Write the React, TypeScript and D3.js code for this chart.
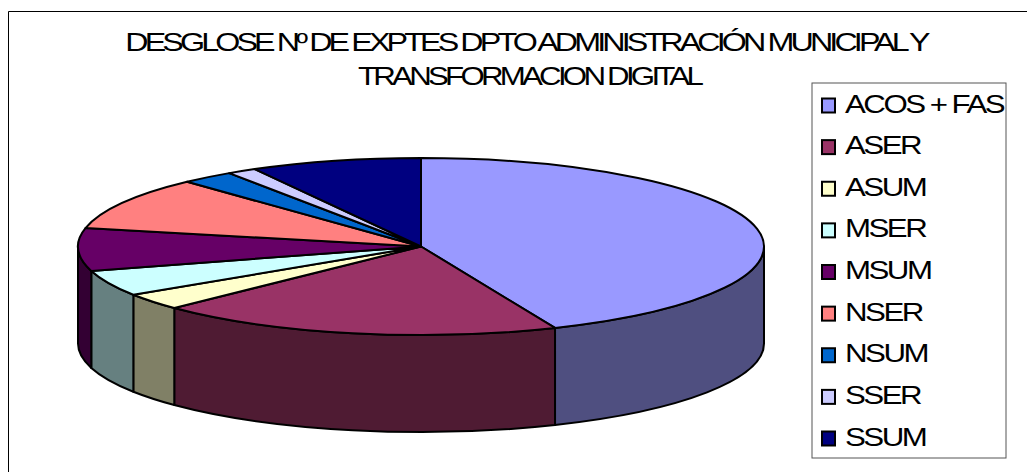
import React from "react";
import * as d3 from "d3";

const categories = ["ACOS + FAS", "ASER", "ASUM", "MSER", "MSUM", "NSER", "NSUM", "SSER", "SSUM"];
const values = [157, 69, 11, 17, 28, 35, 9, 5, 29];
const colors = ["#9999FF", "#993366", "#FFFFCC", "#CCFFFF", "#660066", "#FF8080", "#0066CC", "#CCCCFF", "#000080"];
const sideColors = ["#4F4F80", "#4F1B33", "#808066", "#668080", "#330033"];
const titleLines = ["DESGLOSE Nº DE EXPTES DPTO ADMINISTRACIÓN MUNICIPAL Y", "TRANSFORMACION DIGITAL"];

const W = 1027;
const H = 472;
const cx = 421;
const cy = 246.5;
const rx = 343;
const ry = 88.5;
const depth = 97;

const FONT = "'Liberation Sans', Arial, sans-serif";

const slices = d3.pie<number>().sort(null)(values);

// angle 0 = top, clockwise, squashed into an ellipse
const px = (a: number) => cx + rx * Math.sin(a);
const py = (a: number, dy = 0) => cy - ry * Math.cos(a) + dy;

const topPath = (a0: number, a1: number) =>
  `M${cx},${cy}L${px(a0)},${py(a0)}A${rx},${ry} 0 ${a1 - a0 > Math.PI ? 1 : 0} 1 ${px(a1)},${py(a1)}Z`;

const sidePath = (a0: number, a1: number) =>
  `M${px(a0)},${py(a0)}A${rx},${ry} 0 0 1 ${px(a1)},${py(a1)}` +
  `L${px(a1)},${py(a1, depth)}A${rx},${ry} 0 0 0 ${px(a0)},${py(a0, depth)}Z`;

// the front of the pie only shows between the far right and far left of the ellipse
const sides = slices
  .map((s, i) => ({
    a0: Math.max(s.startAngle, Math.PI / 2),
    a1: Math.min(s.endAngle, (3 * Math.PI) / 2),
    fill: sideColors[i],
  }))
  .filter((s) => s.a1 > s.a0);

const legendY = d3.scalePoint<string>().domain(categories).range([105.5, 438.5]);

// text in the original is stretched wide and set tight
const titleStretch = [1.29, 1.25];

const App = () => (
  <svg
    width={W}
    height={H}
    viewBox={`0 0 ${W} ${H}`}
    style={{ position: "absolute", left: 0, top: 0, background: "#fff", fontFamily: FONT }}
  >
    <path d={`M8.5,${H}V11.5H${W}`} fill="none" stroke="#000" strokeWidth={1} />

    {titleLines.map((t, i) => (
      <text
        key={t}
        transform={`translate(${i ? 529 : 526},${51 + i * 34}) scale(${titleStretch[i]},1)`}
        textAnchor="middle"
        fontSize={25}
        letterSpacing={-3}
        fill="#000"
      >
        {t}
      </text>
    ))}

    {sides.map((s, i) => (
      <path key={i} d={sidePath(s.a0, s.a1)} fill={s.fill} stroke="#000" strokeWidth={2} strokeLinejoin="round" />
    ))}
    {slices.map((s, i) => (
      <path key={i} d={topPath(s.startAngle, s.endAngle)} fill={colors[i]} stroke="#000" strokeWidth={2} strokeLinejoin="round" />
    ))}

    <rect x={812} y={83} width={194} height={375} fill="#fff" stroke="#555" strokeWidth={1} />
    {categories.map((c, i) => (
      <g key={c}>
        <rect x={822} y={legendY(c)! - 7} width={13} height={14} fill={colors[i]} stroke="#000" strokeWidth={2} />
        <text
          transform={`translate(845,${legendY(c)! + 7}) scale(1.25,1)`}
          fontSize={25}
          letterSpacing={-2}
          fill="#000"
        >
          {c}
        </text>
      </g>
    ))}
  </svg>
);

export default App;
